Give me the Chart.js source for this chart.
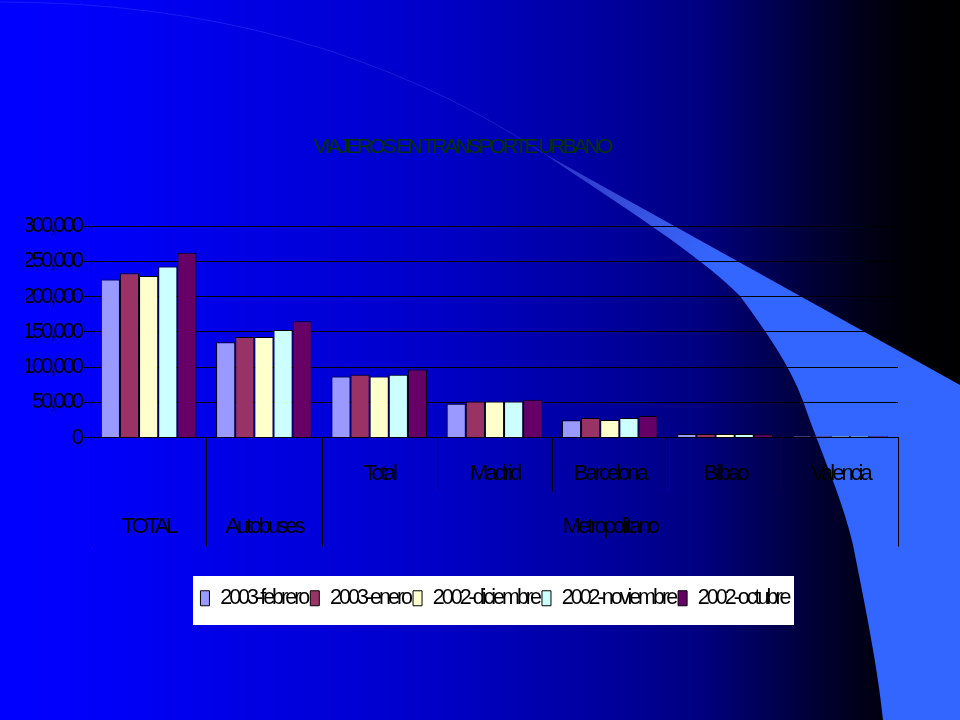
<!DOCTYPE html>
<html>
<head>
<meta charset="utf-8">
<title>Viajeros en transporte urbano</title>
<script src="https://cdn.jsdelivr.net/npm/chart.js@4.4.1/dist/chart.umd.min.js"></script>
<style>
  html, body { margin: 0; padding: 0; background: #000; }
  canvas { display: block; }
</style>
</head>
<body>
<canvas id="chart" width="960" height="720"></canvas>
<script>
const chartTitle = 'VIAJEROS EN TRANSPORTE URBANO';

// categories on the x axis, first row of labels, and the outer groups
const categories = ['TOTAL', 'Autobuses', 'Metropolitano Total', 'Madrid', 'Barcelona', 'Bilbao', 'Valencia'];
const subLabels = ['', '', 'Total', 'Madrid', 'Barcelona', 'Bilbao', 'Valencia'];
const groupNames = ['TOTAL', 'Autobuses', 'Metropolitano'];
const groupSpans = [1, 1, 5];

const seriesNames = ['2003-febrero', '2003-enero', '2002-diciembre', '2002-noviembre', '2002-octubre'];
const seriesColors = ['#9999ff', '#993366', '#ffffcc', '#ccffff', '#660066'];

const feb2003 = [224000, 135000, 86500, 48000, 24500, 4800, 1900];
const ene2003 = [233000, 142500, 89000, 51000, 27500, 4900, 1900];
const dic2002 = [229000, 142500, 86500, 51000, 25000, 4800, 1900];
const nov2002 = [242500, 152500, 89000, 51000, 27500, 4800, 1900];
const oct2002 = [262000, 165000, 96500, 53500, 30500, 4500, 1900];
const seriesValues = [feb2003, ene2003, dic2002, nov2002, oct2002];

const yMax = 300000;
const yStep = 50000;

// the old slide text is drawn very tight
const SPACING = '-3px';
const FONT = "'Liberation Sans', Arial, sans-serif";

Chart.defaults.font.family = FONT;
Chart.defaults.color = '#000';

const slideBackground = {
  id: 'slideBackground',
  beforeLayout(chart) {
    chart.ctx.letterSpacing = SPACING;
  },
  beforeDraw(chart) {
    const { ctx, width, height } = chart;
    ctx.letterSpacing = SPACING;
    ctx.save();

    const bg = ctx.createLinearGradient(0, 0, width, 0);
    bg.addColorStop(0, '#0000ff');
    bg.addColorStop(0.1, '#0000fa');
    bg.addColorStop(0.45, '#0000c8');
    bg.addColorStop(0.62, '#0000a0');
    bg.addColorStop(0.73, '#000080');
    bg.addColorStop(0.82, '#000048');
    bg.addColorStop(0.9, '#000018');
    bg.addColorStop(0.95, '#000005');
    bg.addColorStop(1, '#000000');
    ctx.fillStyle = bg;
    ctx.fillRect(0, 0, width, height);

    // faint arc coming from the top left corner
    ctx.beginPath();
    ctx.moveTo(0, 2);
    ctx.quadraticCurveTo(314, 2, 543, 153);
    ctx.strokeStyle = 'rgba(90, 120, 255, 0.25)';
    ctx.lineWidth = 1;
    ctx.stroke();

    // the light blue swoosh on the right
    const band = ctx.createLinearGradient(543, 153, 710, 262);
    band.addColorStop(0, 'rgba(110, 130, 255, 0.35)');
    band.addColorStop(1, '#3366ff');
    ctx.beginPath();
    ctx.moveTo(543, 153);
    ctx.lineTo(960, 385);
    ctx.lineTo(960, 720);
    ctx.lineTo(883, 720);
    ctx.bezierCurveTo(878, 670, 866, 610, 853, 545);
    ctx.bezierCurveTo(843, 500, 820, 450, 803, 401);
    ctx.bezierCurveTo(790, 365, 765, 330, 740, 296);
    ctx.bezierCurveTo(700, 255, 620, 205, 543, 153);
    ctx.closePath();
    ctx.fillStyle = band;
    ctx.fill();

    // white frame behind the legend
    const boxes = chart.legend.legendHitBoxes || [];
    if (boxes.length) {
      const left = Math.min(...boxes.map((b) => b.left)) - 7;
      const right = Math.max(...boxes.map((b) => b.left + b.width)) + 6;
      const top = boxes[0].top - 12;
      ctx.fillStyle = '#ffffff';
      ctx.fillRect(Math.round(left), Math.round(top), Math.round(right - left), 49);
    }
    ctx.restore();
  },
};

const groupedAxis = {
  id: 'groupedAxis',
  afterDraw(chart) {
    const { ctx, scales: { x } } = chart;
    const step = (x.right - x.left) / categories.length;
    const top = x.top;

    const edges = [0];
    groupSpans.reduce((acc, n) => {
      edges.push(acc + n);
      return acc + n;
    }, 0);

    ctx.save();
    ctx.letterSpacing = SPACING;
    ctx.strokeStyle = '#000';
    ctx.lineWidth = 1;
    for (let i = 0; i <= categories.length; i++) {
      const px = Math.round(x.left + i * step) + 0.5;
      const bottom = edges.includes(i) ? top + 109 : top + 54;
      ctx.beginPath();
      ctx.moveTo(px, top);
      ctx.lineTo(px, bottom);
      ctx.stroke();
    }

    ctx.fillStyle = '#000';
    ctx.font = `22px ${FONT}`;
    ctx.textAlign = 'center';
    ctx.textBaseline = 'middle';
    subLabels.forEach((label, i) => {
      if (label) ctx.fillText(label, x.getPixelForValue(i), top + 36);
    });
    groupNames.forEach((name, g) => {
      const from = edges[g];
      const to = edges[g + 1];
      const cx = x.left + ((from + to) / 2) * step;
      ctx.fillText(name, cx, top + 89);
    });
    ctx.restore();
  },
};

const chart = new Chart(document.getElementById('chart'), {
  type: 'bar',
  data: {
    labels: categories,
    datasets: seriesNames.map((name, i) => ({
      label: name,
      data: seriesValues[i],
      backgroundColor: seriesColors[i],
      borderColor: '#000',
      borderWidth: 1,
      categoryPercentage: 0.83,
      barPercentage: 1,
    })),
  },
  options: {
    responsive: false,
    animation: false,
    layout: {
      padding: { top: 0, left: 26, right: 62, bottom: 101 },
    },
    scales: {
      x: {
        grid: { display: false },
        border: { display: true, color: '#000', width: 1 },
        ticks: { display: false },
        afterFit(scale) { scale.height = 147; },
      },
      y: {
        min: 0,
        max: yMax,
        ticks: {
          stepSize: yStep,
          padding: 3,
          color: '#000',
          font: { size: 22 },
          callback: (v) => v.toLocaleString('en-US'),
        },
        grid: { color: '#000', lineWidth: 1, tickLength: 7 },
        border: { color: '#000', width: 1 },
        afterFit(scale) { scale.width = 65; },
      },
    },
    plugins: {
      title: {
        display: true,
        text: chartTitle,
        color: '#063306',
        font: { size: 21, weight: 'normal' },
        padding: { top: 135, bottom: 65.8 },
      },
      legend: {
        position: 'bottom',
        fullSize: false,
        labels: {
          color: '#000',
          font: { size: 21.5 },
          boxWidth: 9,
          boxHeight: 15,
          padding: 3,
        },
      },
      tooltip: { enabled: false },
    },
  },
  plugins: [slideBackground, groupedAxis],
});
</script>
</body>
</html>
